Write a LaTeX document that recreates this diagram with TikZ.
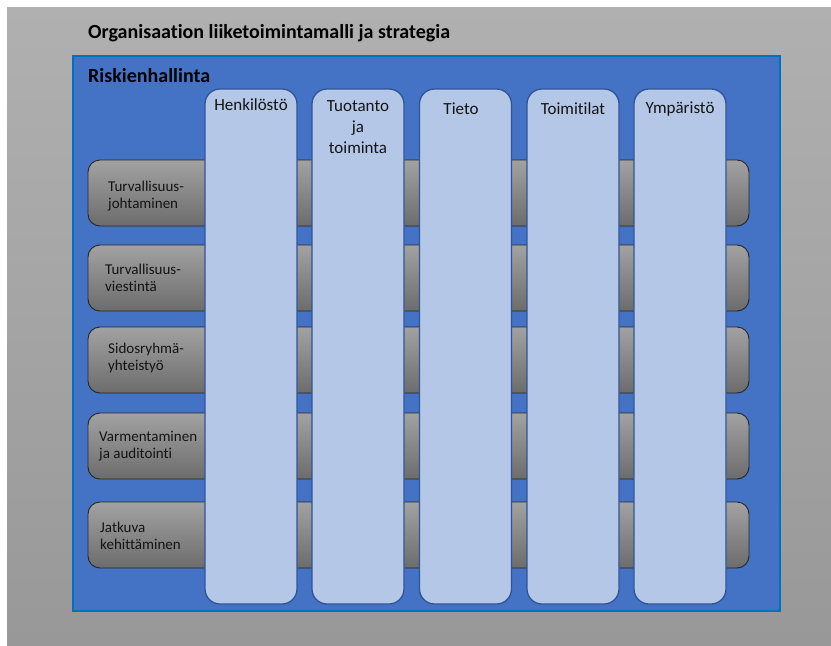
\documentclass[tikz,border=0pt]{standalone}
\usepackage{fontspec}
\setmainfont[Ligatures=CommonOff]{Carlito}

\definecolor{bgtop}{RGB}{176,176,176}
\definecolor{bgbot}{RGB}{152,152,152}
\definecolor{riskfill}{RGB}{68,114,196}
\definecolor{riskedge}{RGB}{0,112,192}
\definecolor{colfill}{RGB}{180,199,231}
\definecolor{coledge}{RGB}{47,85,151}
\definecolor{rowtop}{RGB}{162,162,162}
\definecolor{rowbot}{RGB}{108,108,108}
\definecolor{ink}{RGB}{20,20,20}

\begin{document}
\begin{tikzpicture}[x=1pt,y=1pt,
  panel/.style={inner sep=0pt, outer sep=0pt, anchor=north west},
  rowbox/.style={draw=black!85, line width=0.9pt, rounded corners=12pt,
    top color=rowtop, bottom color=rowbot,
    minimum width=661pt, minimum height=66pt, inner sep=0pt},
  colbox/.style={draw=coledge, line width=1.3pt, fill=colfill, rounded corners=15pt,
    minimum width=92pt, minimum height=515pt, inner sep=0pt},
  rowtext/.style={font=\fontsize{15}{17}\selectfont, align=left, text=ink,
    anchor=west, inner sep=0pt},
  coltext/.style={font=\fontsize{17}{21}\selectfont, align=center, text=ink,
    inner sep=0pt},
  heading/.style={font=\fontsize{20}{24}\selectfont\bfseries, text=black,
    anchor=base west, inner sep=0pt}
]
\useasboundingbox (0,0) rectangle (831,-646);

% outer grey page
\node[panel, minimum width=824pt, minimum height=639pt,
  top color=bgtop, bottom color=bgbot] (page) at (7,-7) {};
\node[heading] (title) at (88,-38) {Organisaation liiketoimintamalli ja strategia};

% blue risk management area
\node[panel, minimum width=707pt, minimum height=555pt,
  fill=riskfill, draw=riskedge, line width=1.5pt] (risk) at (73,-56) {};
\node[heading] (risktitle) at (88,-82) {Riskienhallinta};

% horizontal process bars
\node[rowbox] (r1) at (418.5,-193) {};
\node[rowbox] (r2) at (418.5,-278) {};
\node[rowbox] (r3) at (418.5,-360) {};
\node[rowbox] (r4) at (418.5,-446) {};
\node[rowbox] (r5) at (418.5,-535) {};

\node[rowtext] (t1) at (108,-196) {Turvallisuus-\\johtaminen};
\node[rowtext] (t2) at (105,-278) {Turvallisuus-\\viestintä};
\node[rowtext] (t3) at (108,-358) {Sidosryhmä-\\yhteistyö};
\node[rowtext] (t4) at (99,-446) {Varmentaminen\\ja auditointi};
\node[rowtext] (t5) at (100,-536) {Jatkuva\\kehittäminen};

% vertical risk areas
\node[colbox] (c1) at (251,-346.5) {};
\node[colbox] (c2) at (358,-346.5) {};
\node[colbox] (c3) at (465.5,-346.5) {};
\node[colbox] (c4) at (573,-346.5) {};
\node[colbox] (c5) at (680,-346.5) {};

\node[coltext, anchor=base] (l1) at (251,-110) {Henkilöstö};
\node[coltext, anchor=north] (l2) at (358,-100) {Tuotanto\\ja\\toiminta};
\node[coltext, anchor=base] (l3) at (461,-114) {Tieto};
\node[coltext, anchor=base] (l4) at (573,-114) {Toimitilat};
\node[coltext, anchor=base] (l5) at (680,-113) {Ympäristö};
\end{tikzpicture}
\end{document}
